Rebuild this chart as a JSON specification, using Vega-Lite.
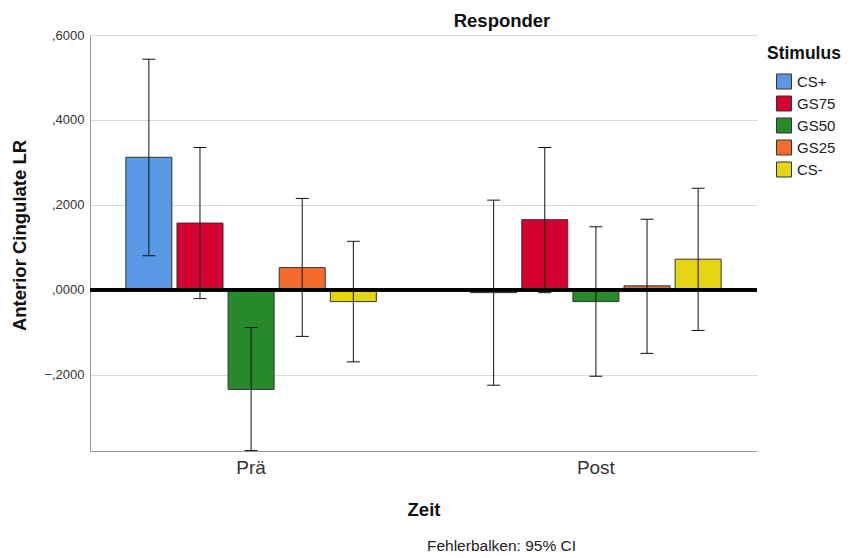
{
  "$schema": "https://vega.github.io/schema/vega-lite/v6.json",
  "width": 667,
  "height": 416,
  "autosize": {"type": "none"},
  "padding": {"left": 90, "top": 35, "right": 94, "bottom": 107},
  "background": "white",
  "config": {"font": "Liberation Sans", "view": {"stroke": null}},
  "title": {"text": "Fehlerbalken: 95% CI", "orient": "bottom", "anchor": "middle", "dx": 78, "fontSize": 15.5, "fontWeight": "normal", "color": "#222", "offset": 20},
  "data": {"values": [
    {"Zeit": "Prä", "Stimulus": "CS+", "Mittel": 0.312, "Unten": 0.080, "Oben": 0.543},
    {"Zeit": "Prä", "Stimulus": "GS75", "Mittel": 0.157, "Unten": -0.021, "Oben": 0.335},
    {"Zeit": "Prä", "Stimulus": "GS50", "Mittel": -0.235, "Unten": -0.379, "Oben": -0.089},
    {"Zeit": "Prä", "Stimulus": "GS25", "Mittel": 0.052, "Unten": -0.110, "Oben": 0.215},
    {"Zeit": "Prä", "Stimulus": "CS-", "Mittel": -0.028, "Unten": -0.170, "Oben": 0.114},
    {"Zeit": "Post", "Stimulus": "CS+", "Mittel": -0.007, "Unten": -0.225, "Oben": 0.211},
    {"Zeit": "Post", "Stimulus": "GS75", "Mittel": 0.165, "Unten": -0.007, "Oben": 0.335},
    {"Zeit": "Post", "Stimulus": "GS50", "Mittel": -0.028, "Unten": -0.204, "Oben": 0.148},
    {"Zeit": "Post", "Stimulus": "GS25", "Mittel": 0.009, "Unten": -0.150, "Oben": 0.166},
    {"Zeit": "Post", "Stimulus": "CS-", "Mittel": 0.072, "Unten": -0.096, "Oben": 0.239}
  ]},
  "layer": [
    {
      "mark": {"type": "bar", "stroke": "#333", "strokeWidth": 1},
      "encoding": {
        "x": {"field": "Zeit", "type": "nominal", "sort": ["Prä", "Post"],
              "scale": {"paddingInner": 0.2735, "paddingOuter": 0.104},
              "axis": {"orient": "bottom", "title": "Zeit", "labelAngle": 0, "labelFontSize": 19, "labelColor": "#333", "labelPadding": 7, "ticks": false, "domainColor": "#999", "titleFontSize": 18.5, "titleFontWeight": "bold", "titleColor": "#111", "titlePadding": 23}},
        "xOffset": {"field": "Stimulus", "type": "nominal", "sort": ["CS+", "GS75", "GS50", "GS25", "CS-"], "scale": {"paddingInner": 0.1, "paddingOuter": 0}},
        "y": {"field": "Mittel", "type": "quantitative",
              "scale": {"domain": [-0.38, 0.6], "nice": false, "zero": false},
              "axis": {"values": [-0.2, 0, 0.2, 0.4, 0.6], "labelExpr": "replace(format(datum.value, '.4f'), '0.', ',')", "labelFontSize": 13, "labelColor": "#333", "labelPadding": 6, "ticks": false, "domainColor": "#999", "gridColor": "#d9d9d9", "title": "Anterior Cingulate LR", "titleFontSize": 18.5, "titleFontWeight": "bold", "titleColor": "#111", "titlePadding": 14, "titleY": 200}},
        "color": {"field": "Stimulus", "type": "nominal", "sort": ["CS+", "GS75", "GS50", "GS25", "CS-"],
                  "scale": {"domain": ["CS+", "GS75", "GS50", "GS25", "CS-"], "range": ["#5898e4", "#d40030", "#288a2a", "#f36b2d", "#e5d512"]},
                  "legend": {"orient": "none", "legendX": 677, "legendY": 10, "title": "Stimulus", "titleFontSize": 17.5, "titleFontWeight": "bold", "titleColor": "#111", "titlePadding": 11, "symbolType": "square", "symbolSize": 225, "symbolStrokeColor": "#333", "symbolStrokeWidth": 1, "symbolOpacity": 1, "symbolOffset": 9, "labelFontSize": 15, "labelColor": "#222", "labelOffset": 5, "rowPadding": 2}}
      }
    },
    {
      "mark": {"type": "rule", "color": "#111", "strokeWidth": 1},
      "encoding": {
        "x": {"field": "Zeit", "type": "nominal", "sort": ["Prä", "Post"],
              "axis": {"orient": "top", "labels": false, "ticks": false, "domain": false, "grid": false, "title": "Responder", "titleFontSize": 18.5, "titleFontWeight": "bold", "titleColor": "#111", "titleX": 411.5, "titleY": -8.5, "titleAlign": "center", "titleBaseline": "alphabetic"}},
        "xOffset": {"field": "Stimulus", "type": "nominal", "sort": ["CS+", "GS75", "GS50", "GS25", "CS-"]},
        "y": {"field": "Unten", "type": "quantitative"},
        "y2": {"field": "Oben"}
      }
    },
    {
      "mark": {"type": "tick", "orient": "horizontal", "size": 13, "thickness": 1, "color": "#111", "opacity": 1},
      "encoding": {
        "x": {"field": "Zeit", "type": "nominal", "sort": ["Prä", "Post"], "axis": null},
        "xOffset": {"field": "Stimulus", "type": "nominal", "sort": ["CS+", "GS75", "GS50", "GS25", "CS-"]},
        "y": {"field": "Unten", "type": "quantitative"}
      }
    },
    {
      "mark": {"type": "tick", "orient": "horizontal", "size": 13, "thickness": 1, "color": "#111", "opacity": 1},
      "encoding": {
        "x": {"field": "Zeit", "type": "nominal", "sort": ["Prä", "Post"], "axis": null},
        "xOffset": {"field": "Stimulus", "type": "nominal", "sort": ["CS+", "GS75", "GS50", "GS25", "CS-"]},
        "y": {"field": "Oben", "type": "quantitative"}
      }
    },
    {
      "mark": {"type": "rule", "color": "#000", "strokeWidth": 3},
      "encoding": {"y": {"datum": 0}}
    }
  ],
  "resolve": {"axis": {"x": "independent"}}
}
